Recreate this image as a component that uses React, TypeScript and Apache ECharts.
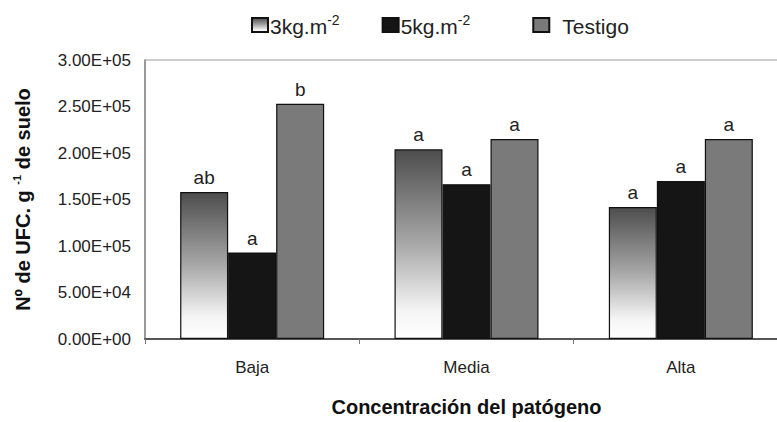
import React, { useEffect, useRef } from "react";
import * as echarts from "echarts";

const categories = ["Baja", "Media", "Alta"];
const seriesNames = ["3kg.m-2", "5kg.m-2", "Testigo"];
const values3kg = [158000, 204000, 142000];
const values5kg = [93000, 166500, 170000];
const valuesTestigo = [253000, 215000, 215000];
const letters3kg = ["ab", "a", "a"];
const letters5kg = ["a", "a", "a"];
const lettersTestigo = ["b", "a", "a"];
const yTickLabels = ["0.00E+00", "5.00E+04", "1.00E+05", "1.50E+05", "2.00E+05", "2.50E+05", "3.00E+05"];

const FONT = "'Liberation Sans', Arial, sans-serif";

export default function App() {
  const ref = useRef<HTMLDivElement>(null);
  useEffect(() => {
    if (!ref.current) return;
    const chart = echarts.init(ref.current, null, { renderer: "svg" });
    const grad = new echarts.graphic.LinearGradient(0, 0, 0, 1, [
      { offset: 0, color: "#4d4d4d" },
      { offset: 0.5, color: "#a8a8a8" },
      { offset: 0.85, color: "#f4f4f4" },
      { offset: 1, color: "#ffffff" },
    ]);
    const labelOf = (arr: string[]) => ({
      show: true,
      position: "top",
      distance: 5,
      color: "#222",
      fontSize: 19,
      fontFamily: FONT,
      formatter: (p: any) => arr[p.dataIndex],
    });
    const mk = (name: string, data: number[], color: any, letters: string[]) => ({
      name,
      type: "bar",
      data,
      barWidth: 48,
      barGap: "0%",
      itemStyle: { color, borderColor: "#111", borderWidth: 1.2 },
      label: labelOf(letters),
    });
    chart.setOption({
      animation: false,
      textStyle: { fontFamily: FONT },
      legend: {
        top: 8,
        left: 246,
        itemWidth: 16,
        itemHeight: 14,
        itemGap: 42,
        icon: "rect",
        data: seriesNames,
        formatter: (n: string) => {
          if (n === "Testigo") return "{tt|Testigo}";
          if (n === "5kg.m-2") return "{t|5kg.m}{s2|-2}";
          return "{t|3kg.m}{s|-2}";
        },
        textStyle: {
          fontFamily: FONT,
          color: "#222",
          padding: [0, 0, 0, -3],
          rich: {
            t: { fontSize: 21, fontFamily: FONT, color: "#222", verticalAlign: "bottom", lineHeight: 24 },
            tt: { fontSize: 21, fontFamily: FONT, color: "#222", verticalAlign: "bottom", lineHeight: 24, padding: [0, 0, 0, 11] },
            s: { fontSize: 14, fontFamily: FONT, color: "#222", verticalAlign: "top", lineHeight: 24 },
            s2: { fontSize: 14, fontFamily: FONT, color: "#222", verticalAlign: "top", lineHeight: 24, padding: [0, 20, 0, 0] },
          },
        },
      },
      grid: {
        left: 145,
        top: 60,
        width: 643,
        height: 279,
        show: true,
        borderColor: "#999",
        borderWidth: 1,
        containLabel: false,
      },
      xAxis: {
        type: "category",
        data: categories,
        axisLine: { lineStyle: { color: "#555", width: 2 } },
        axisTick: { show: true, length: 5, lineStyle: { color: "#777" } },
        axisLabel: { color: "#222", fontSize: 17, fontFamily: FONT, margin: 20 },
        name: "Concentración del patógeno",
        nameLocation: "middle",
        nameGap: 58,
        nameTextStyle: { fontSize: 20, fontWeight: "bold", color: "#111", fontFamily: FONT },
      },
      yAxis: {
        type: "value",
        min: 0,
        max: 300000,
        interval: 50000,
        axisLine: { show: true, lineStyle: { color: "#888", width: 1.5 } },
        axisTick: { show: false },
        splitLine: { show: false },
        axisLabel: {
          color: "#222",
          fontSize: 17,
          fontFamily: FONT,
          margin: 14,
          formatter: (v: number) => yTickLabels[Math.round(v / 50000)],
        },
        name: "{t|Nº de UFC. g }{s|-1}{t| de suelo}",
        nameLocation: "middle",
        nameRotate: 90,
        nameGap: 112,
        nameTextStyle: {
          fontFamily: FONT,
          rich: {
            t: { fontSize: 20, fontWeight: "bold", color: "#111", fontFamily: FONT, verticalAlign: "bottom", lineHeight: 22 },
            s: { fontSize: 11, fontWeight: "bold", color: "#111", fontFamily: FONT, verticalAlign: "top", lineHeight: 22 },
          },
        },
      },
      series: [
        mk(seriesNames[0], values3kg, grad, letters3kg),
        mk(seriesNames[1], values5kg, "#151515", letters5kg),
        mk(seriesNames[2], valuesTestigo, "#7a7a7a", lettersTestigo),
      ],
    });
    return () => chart.dispose();
  }, []);
  return (
    <div style={{ position: "absolute", left: 0, top: 0, width: 777, height: 422, overflow: "hidden" }}>
      <div ref={ref} style={{ width: 800, height: 422 }} />
    </div>
  );
}
